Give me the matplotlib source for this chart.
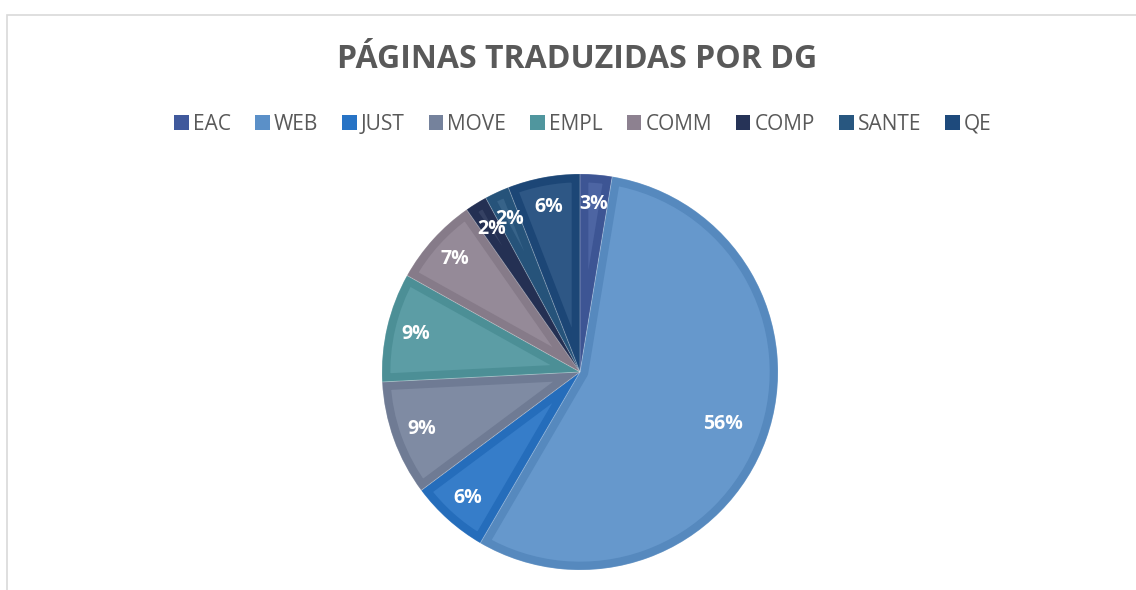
import numpy as np
import matplotlib
matplotlib.use("Agg")
import matplotlib.pyplot as plt
from matplotlib.patches import Patch, Rectangle
from matplotlib.colors import to_rgb

# --- data -------------------------------------------------------------
categories = ["EAC", "WEB", "JUST", "MOVE", "EMPL", "COMM", "COMP", "SANTE", "QE"]
shares = [2.6, 55.8, 6.4, 9.4, 8.9, 7.2, 1.8, 2.0, 5.9]  # % of translated pages
title = "PÁGINAS TRADUZIDAS POR DG"

# --- style ------------------------------------------------------------
base_colors = ["#40599C", "#5B90C8", "#2773C5", "#75829C", "#50969E",
               "#8D8190", "#263357", "#285780", "#1E4A7C"]
TEXT_GREY = "#595959"


def shade(c, f):
    r, g, b = to_rgb(c)
    if f > 0:
        return (r + (1 - r) * f, g + (1 - g) * f, b + (1 - b) * f)
    return (r * (1 + f), g * (1 + f), b * (1 + f))


plt.rcParams["font.family"] = ["Open Sans", "DejaVu Sans"]

W, H = 1136, 590
fig = plt.figure(figsize=(W / 100, H / 100), dpi=100)

# chart frame (light grey border, runs off the right/bottom edge)
fig.add_artist(Rectangle((7 / W, -0.1), 1.2, 1 - 15 / H + 0.1,
                         transform=fig.transFigure, fill=False,
                         edgecolor="#D9D9D9", linewidth=1.2))

# pie axes: centre (580, 372) px, radius 198 px
cx, cy, r = 580, 372, 198
ax = fig.add_axes([(cx - r) / W, 1 - (cy + r) / H, 2 * r / W, 2 * r / H])

wedges, _, autotexts = ax.pie(
    shares,
    colors=[shade(c, 0.07) for c in base_colors],
    startangle=90,
    counterclock=False,
    autopct="%1.0f%%",
    pctdistance=0.85,
    radius=1.0,
    textprops=dict(color="white", fontsize=14, fontweight="bold"),
)

# darker inner band along each slice outline (stroke clipped to the slice)
for w, c in zip(wedges, base_colors):
    w.set_edgecolor(shade(c, -0.05))
    w.set_linewidth(12)
    w.set_joinstyle("round")
    w.set_clip_path(w)
    w.set_clip_on(True)

# thin light separators between slices
ax.pie(shares, startangle=90, counterclock=False, radius=1.0,
       wedgeprops=dict(fill=False, edgecolor=(1, 1, 1, 0.2), linewidth=0.6))

# the big slice label sits further in
w = wedges[1]
ang = np.deg2rad((w.theta1 + w.theta2) / 2)
autotexts[1].set_position((0.77 * np.cos(ang), 0.77 * np.sin(ang)))

ax.set_xlim(-1, 1)
ax.set_ylim(-1, 1)
ax.set_aspect("equal")
ax.axis("off")

fig.text(577 / W, 1 - 59 / H, title, ha="center", va="center",
         fontsize=23, fontweight="bold", color=TEXT_GREY)

handles = [Patch(facecolor=c, edgecolor="none") for c in base_colors]
fig.legend(handles, categories, loc="center", ncol=len(categories),
           bbox_to_anchor=(583 / W, 1 - 124 / H), frameon=False,
           handlelength=0.7, handleheight=0.7, handletextpad=0.2,
           columnspacing=1.15, labelcolor=TEXT_GREY,
           prop=dict(size=15))

fig.savefig("out.png", dpi=100)
